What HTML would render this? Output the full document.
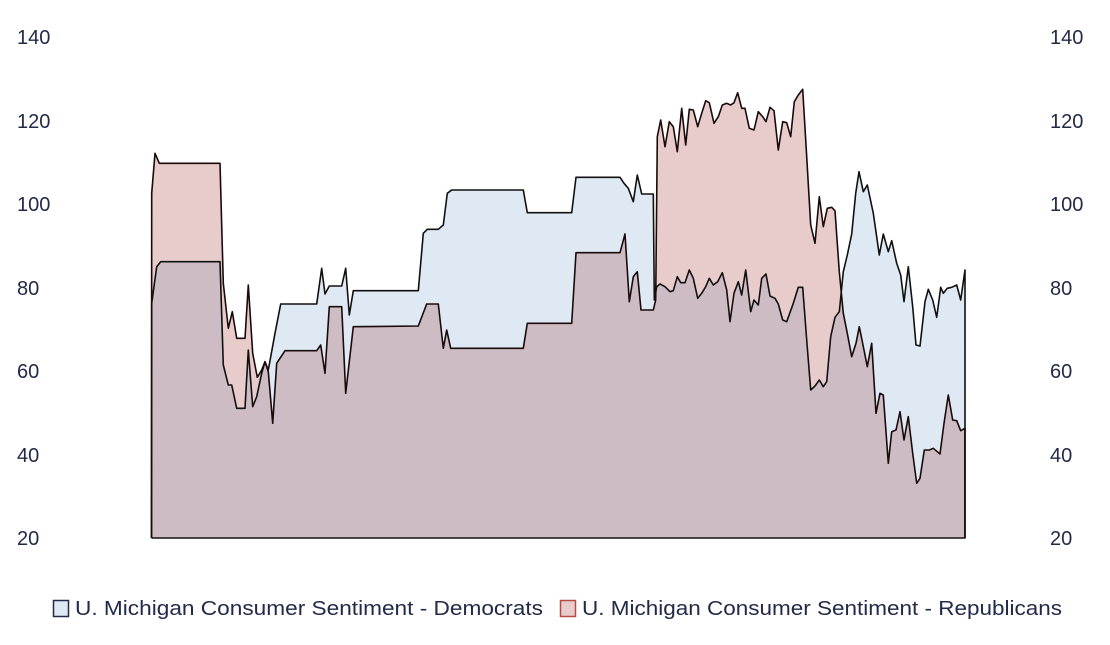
<!DOCTYPE html>
<html><head><meta charset="utf-8"><style>
html,body{margin:0;padding:0;background:#fff;width:1110px;height:645px;overflow:hidden}
text{font-family:"Liberation Sans",sans-serif;fill:#222a48}
</style></head><body>
<svg id="s" width="1110" height="645" xmlns="http://www.w3.org/2000/svg">
<defs><clipPath id="cd"><path id="cdp" d=""/></clipPath></defs>
<path id="demF" fill="#dfe9f3" d=""/>
<path id="repF" fill="#e8cbcb" d=""/>
<path id="ovF" fill="#cdbcc4" clip-path="url(#cd)" d=""/>
<path id="demL" fill="none" stroke="#111" stroke-width="1.6" stroke-linejoin="round" d=""/>
<path id="repL" fill="none" stroke="#1a0a0a" stroke-width="1.6" stroke-linejoin="round" d=""/>
<g font-size="20">
<text x="17" y="44">140</text><text x="17" y="128">120</text><text x="17" y="211">100</text>
<text x="17" y="295">80</text><text x="17" y="378">60</text><text x="17" y="462">40</text><text x="17" y="545">20</text>
<text x="1050" y="44">140</text><text x="1050" y="128">120</text><text x="1050" y="211">100</text>
<text x="1050" y="295">80</text><text x="1050" y="378">60</text><text x="1050" y="462">40</text><text x="1050" y="545">20</text>
</g>
<rect x="53.5" y="600.5" width="15" height="16" fill="#dfe9f3" stroke="#222a48" stroke-width="1.5"/>
<text x="75" y="615" font-size="20" textLength="468" lengthAdjust="spacingAndGlyphs">U. Michigan Consumer Sentiment - Democrats</text>
<rect x="560.5" y="600.5" width="15" height="16" fill="#e8cbcb" stroke="#b84a44" stroke-width="1.5"/>
<text x="582" y="615" font-size="20" textLength="480" lengthAdjust="spacingAndGlyphs">U. Michigan Consumer Sentiment - Republicans</text>
</svg>
<script>
var z1d=[[35,490],[50,380],[62,365],[240,365],[250,675],[265,735],[275,735],[290,805],[315,805],[325,630],[338,800],[350,770],[365,700],[375,665],[385,690],[405,580],[422,492],[530,492],[545,385],[555,462],[568,438],[605,438],[617,385],[628,525],[640,452],[835,452],[850,280],[862,268],[895,268],[910,255],[922,160],[935,150],[1150,150],[1162,218],[1260,218]];
var z1r=[[35,160],[45,40],[58,70],[240,70],[250,430],[265,565],[277,515],[290,595],[315,595],[325,435],[338,640],[352,712],[365,690],[375,665],[385,695],[398,850],[410,670],[435,632],[530,632],[542,615],[555,700],[568,500],[605,500],[617,760],[640,560],[835,558],[860,492],[895,492],[910,625],[920,570],[932,625],[1150,625],[1162,550],[1260,550]];
var z2d=[[35,398],[48,292],[180,292],[192,310],[205,325],[220,365],[232,285],[245,342],[280,342],[283,660],[290,620],[300,612],[315,620],[330,635],[340,632],[352,590],[362,608],[375,608],[388,570],[400,595],[413,655],[425,640],[437,620],[448,595],[460,615],[473,605],[487,578],[500,630],[510,725],[522,640],[535,605],[545,645],[557,570],[572,695],[582,660],[595,675],[605,595],[618,582],[630,648],[645,655],[655,672],[668,720],[680,725],[700,670],[715,622],[728,622],[740,780],[752,930],[765,918],[778,900],[790,920],[800,905],[812,770],[825,712],[838,695],[850,575],[862,525],[875,462],[887,340],[897,275],[910,335],[922,315],[940,400],[958,525],[970,462],[985,515],[995,482],[1010,550],[1022,585],[1032,665],[1045,560],[1058,680],[1068,795],[1080,798],[1095,665],[1105,628],[1118,660],[1130,712],[1142,622],[1150,640],[1162,625],[1175,622],[1190,615],[1202,660],[1215,570]];
var z2r=[[35,730],[48,518],[180,518],[195,462],[208,665],[220,590],[232,575],[243,690],[280,690],[287,660],[292,170],[302,120],[315,200],[328,125],[340,140],[352,215],[365,85],[377,195],[388,88],[400,90],[413,140],[425,100],[437,62],[448,68],[462,130],[475,110],[487,75],[500,70],[512,75],[522,68],[533,38],[545,85],[555,85],[568,145],[582,150],[595,95],[608,110],[618,125],[630,82],[642,92],[655,210],[668,125],[680,128],[692,170],[703,65],[715,45],[728,28],[740,230],[752,435],[765,490],[778,350],[790,440],[802,385],[815,382],[825,392],[838,575],[850,700],[862,760],[875,830],[888,790],[898,740],[912,810],[922,860],[935,790],[948,1000],[960,940],[970,945],[985,1150],[995,1055],[1008,1050],[1020,995],[1032,1080],[1045,1010],[1058,1120],[1070,1210],[1080,1195],[1093,1110],[1108,1110],[1120,1105],[1140,1122],[1152,1030],[1165,945],[1178,1020],[1190,1022],[1202,1052],[1215,1045]];
function cv(a,ox,oy){return a.map(function(p){return [ox+p[0]/3,oy+p[1]/3];});}
var d=cv(z1d,140,140).concat(cv(z2d,560,80));
var r=cv(z1r,140,140).concat(cv(z2r,560,80));
var B=538,X0=151.5,X1=965;
function line(a){return 'M'+X0+','+B+' '+a.map(function(p){return 'L'+p[0].toFixed(1)+','+p[1].toFixed(1);}).join(' ')+' L'+X1+','+B;}
var dl=line(d),rl=line(r);
document.getElementById('demF').setAttribute('d',dl+'Z');
document.getElementById('repF').setAttribute('d',rl+'Z');
document.getElementById('cdp').setAttribute('d',dl+'Z');
document.getElementById('ovF').setAttribute('d',rl+'Z');
document.getElementById('demL').setAttribute('d',dl+' L'+X0+','+B);
document.getElementById('repL').setAttribute('d',rl);
</script>
</body></html>
